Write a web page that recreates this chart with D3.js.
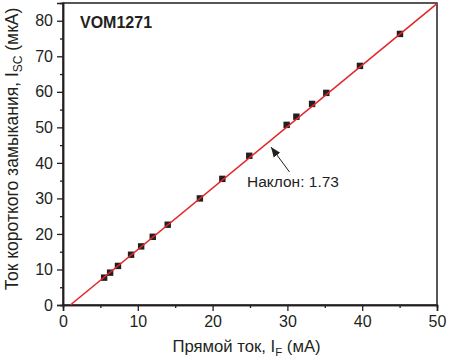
<!DOCTYPE html>
<html><head><meta charset="utf-8">
<script src="https://cdn.jsdelivr.net/npm/d3@7"></script>
<style>body{margin:0;background:#fff}svg text{font-family:"Liberation Sans",Arial,sans-serif;fill:#231f20}</style>
</head><body><svg id="c" width="450" height="360"></svg>
<script>
const forwardCurrent = [5.5, 6.3, 7.35, 9.1, 10.45, 12.0, 14.0, 18.3, 21.3, 24.9, 29.9, 31.2, 33.3, 35.2, 39.7, 45.05];
const shortCurrent   = [7.7, 9.1, 11.0, 14.15, 16.5, 19.2, 22.6, 30.0, 35.5, 42.0, 50.7, 53.0, 56.6, 59.7, 67.3, 76.3];
const fitSlope = 1.73, fitIntercept = -1.7;
const xTicks = [0, 10, 20, 30, 40, 50];
const yTicks = [0, 10, 20, 30, 40, 50, 60, 70, 80];
const xMinor = [5, 15, 25, 35, 45];
const yMinor = [5, 15, 25, 35, 45, 55, 65, 75];

const svg = d3.select("#c");
const L = 63, R = 437, T = 3, B = 305;
const x = d3.scaleLinear().domain([0, 50]).range([L, R]);
const y = d3.scaleLinear().domain([0, 85]).range([B, T]);
const ink = "#231f20";

svg.append("rect").attr("x", L).attr("y", T).attr("width", R - L).attr("height", B - T)
  .attr("fill", "none").attr("stroke", ink).attr("stroke-width", 1.5);

const xAx = svg.append("g").attr("transform", `translate(0,${B})`)
  .call(d3.axisBottom(x).tickValues(xTicks).tickSize(6).tickPadding(5).tickFormat(d3.format("d")));
const xAxm = svg.append("g").attr("transform", `translate(0,${B})`)
  .call(d3.axisBottom(x).tickValues(xMinor).tickSize(3).tickFormat(""));
const yAx = svg.append("g").attr("transform", `translate(${L},0)`)
  .call(d3.axisLeft(y).tickValues(yTicks).tickSize(6).tickPadding(4).tickFormat(d3.format("d")));
const yAxm = svg.append("g").attr("transform", `translate(${L},0)`)
  .call(d3.axisLeft(y).tickValues(yMinor).tickSize(3).tickFormat(""));
[xAx, xAxm, yAx, yAxm].forEach(g => {
  g.select(".domain").attr("stroke", ink).attr("stroke-width", 1.5);
  g.selectAll(".tick line").attr("stroke", ink).attr("stroke-width", 1.3);
  g.selectAll(".tick text").attr("font-size", 16).attr("fill", ink)
    .style("font-family", '"Liberation Sans",Arial,sans-serif');
});

svg.append("g").selectAll("rect").data(forwardCurrent).join("rect")
  .attr("x", (d) => x(d) - 3.2).attr("y", (d, i) => y(shortCurrent[i]) - 3.2)
  .attr("width", 6.4).attr("height", 6.4).attr("fill", ink);

const x0 = -fitIntercept / fitSlope;
const x1 = Math.min(50, (85 - fitIntercept) / fitSlope);
svg.append("line")
  .attr("x1", x(x0)).attr("y1", y(0))
  .attr("x2", x(x1)).attr("y2", y(fitSlope * x1 + fitIntercept))
  .attr("stroke", "#e3262a").attr("stroke-width", 1.6);

svg.append("defs").append("marker").attr("id", "ah").attr("viewBox", "0 0 10 10")
  .attr("refX", 10).attr("refY", 5).attr("markerWidth", 10).attr("markerHeight", 10)
  .attr("markerUnits", "userSpaceOnUse").attr("orient", "auto")
  .append("path").attr("d", "M0,1 L10,5 L0,9 Z").attr("fill", ink);
svg.append("line").attr("x1", 289.5).attr("y1", 172).attr("x2", 271).attr("y2", 147)
  .attr("stroke", ink).attr("stroke-width", 1).attr("marker-end", "url(#ah)");
svg.append("text").attr("x", 247).attr("y", 187).attr("font-size", 15.5).text("Наклон: 1.73");

svg.append("text").attr("x", 80).attr("y", 28).attr("font-size", 16).attr("font-weight", "bold").text("VOM1271");

const xt = svg.append("text").attr("x", 246.5).attr("y", 352).attr("text-anchor", "middle").attr("font-size", 16.7);
xt.append("tspan").text("Прямой ток, I");
xt.append("tspan").attr("font-size", 11.5).attr("dy", 4).text("F");
xt.append("tspan").attr("dy", -4).text(" (мА)");

const yt = svg.append("text").attr("transform", "translate(17.5,149) rotate(-90)").attr("text-anchor", "middle").attr("font-size", 17.5);
yt.append("tspan").text("Ток короткого замыкания, I");
yt.append("tspan").attr("font-size", 12).attr("dy", 4).text("SC");
yt.append("tspan").attr("dy", -4).text(" (мкА)");
</script></body></html>
